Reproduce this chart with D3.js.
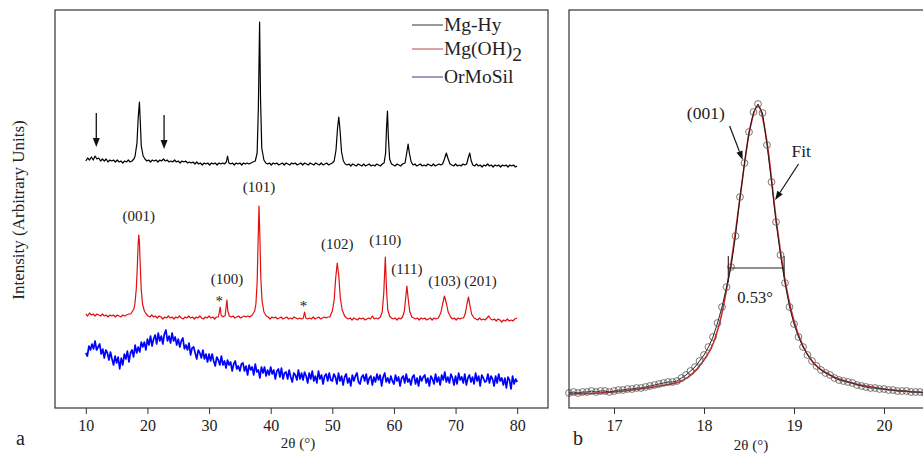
<!DOCTYPE html>
<html>
<head>
<meta charset="utf-8">
<script src="https://cdn.jsdelivr.net/npm/d3@7"></script>
<style>
  body { margin: 0; background: #fff; }
  svg { display: block; font-family: "Liberation Serif", "Times New Roman", serif; }
</style>
</head>
<body>
<div id="chart"></div>
<script>
// ---- data ----

// panel a: XRD patterns, [2theta, intensity] in arbitrary units
const mgHy = [
  [10, 17], [10.3, 20], [10.6, 18], [10.9, 21], [11.2, 18], [11.5, 22], [11.8, 19], [12.1, 20],
  [12.4, 17], [12.7, 19], [13, 17], [13.3, 19], [13.6, 16], [13.9, 18], [14.2, 17], [14.5, 18],
  [14.8, 16], [15.1, 18], [15.4, 16], [15.7, 17], [16, 15], [16.3, 17], [16.6, 16], [16.9, 18],
  [17.2, 16], [17.5, 17], [17.8, 19], [18, 22], [18.3, 35], [18.5, 60], [18.7, 76], [18.85, 55],
  [19, 32], [19.3, 22], [19.6, 19], [19.9, 17], [20.2, 18], [20.5, 16], [20.8, 18], [21.1, 17],
  [21.4, 18], [21.7, 16], [22, 18], [22.3, 17], [22.6, 19], [22.9, 17], [23.2, 18], [23.5, 16],
  [23.8, 17], [24.1, 16], [24.4, 18], [24.7, 16], [25, 17], [25.3, 15], [25.6, 17], [25.9, 16],
  [26.2, 17], [26.5, 15], [26.8, 16], [27.1, 15], [27.4, 16], [27.7, 14], [28, 16], [28.3, 14],
  [28.6, 15], [28.9, 13], [29.2, 15], [29.5, 14], [29.8, 15], [30.1, 13], [30.4, 15], [30.7, 14],
  [31, 15], [31.3, 13], [31.6, 15], [31.9, 14], [32.2, 15], [32.5, 14], [32.8, 16], [33, 22],
  [33.2, 15], [33.5, 14], [33.8, 15], [34.1, 13], [34.4, 15], [34.7, 14], [35, 15], [35.3, 13],
  [35.6, 15], [35.9, 14], [36.2, 15], [36.5, 14], [36.8, 15], [37.1, 16], [37.5, 17], [37.8, 25],
  [38, 70], [38.2, 156], [38.35, 80], [38.55, 30], [38.9, 18], [39.2, 15], [39.5, 14], [39.8, 15],
  [40.1, 13], [40.4, 15], [40.7, 14], [41, 15], [41.3, 13], [41.6, 14], [41.9, 15], [42.2, 13],
  [42.5, 15], [42.8, 14], [43.1, 13], [43.4, 15], [43.7, 14], [44, 15], [44.3, 13], [44.6, 14],
  [44.9, 15], [45.2, 13], [45.5, 15], [45.8, 14], [46.1, 13], [46.4, 15], [46.7, 14], [47, 13],
  [47.3, 15], [47.6, 14], [47.9, 13], [48.2, 15], [48.5, 13], [48.8, 14], [49.1, 15], [49.4, 13],
  [49.7, 14], [50, 15], [50.3, 17], [50.6, 28], [50.85, 50], [51.05, 61], [51.25, 48], [51.5, 26],
  [51.8, 17], [52.1, 14], [52.4, 13], [52.7, 14], [53, 12], [53.3, 14], [53.6, 13], [53.9, 12],
  [54.2, 14], [54.5, 13], [54.8, 12], [55.1, 14], [55.4, 12], [55.7, 13], [56, 14], [56.3, 12],
  [56.6, 13], [56.9, 12], [57.2, 14], [57.5, 13], [57.8, 12], [58.1, 14], [58.4, 15], [58.65, 25],
  [58.8, 50], [58.95, 67], [59.1, 40], [59.3, 19], [59.6, 14], [59.9, 13], [60.2, 12], [60.5, 14],
  [60.8, 13], [61.1, 12], [61.4, 14], [61.8, 15], [62.05, 24], [62.3, 34], [62.5, 25], [62.8, 16],
  [63.1, 13], [63.4, 14], [63.7, 12], [64, 13], [64.3, 14], [64.6, 12], [64.9, 13], [65.2, 12],
  [65.5, 14], [65.8, 13], [66.1, 12], [66.4, 14], [66.7, 12], [67, 13], [67.3, 14], [67.6, 13],
  [67.9, 14], [68.2, 19], [68.5, 25], [68.8, 19], [69.1, 14], [69.4, 13], [69.7, 12], [70, 14],
  [70.3, 12], [70.6, 13], [70.9, 12], [71.2, 14], [71.5, 13], [71.8, 14], [72.05, 20], [72.3, 25],
  [72.55, 17], [72.8, 13], [73.1, 12], [73.4, 14], [73.7, 12], [74, 13], [74.3, 11], [74.6, 13],
  [74.9, 12], [75.2, 14], [75.5, 12], [75.8, 13], [76.1, 11], [76.4, 13], [76.7, 12], [77, 13],
  [77.3, 11], [77.6, 13], [77.9, 12], [78.2, 13], [78.5, 11], [78.8, 13], [79.1, 12], [79.4, 13],
  [79.7, 11], [80, 12]
];

const mgOH2 = [
  [10, 14], [10.3, 12], [10.6, 15], [10.9, 13], [11.2, 14], [11.5, 12], [11.8, 14], [12.1, 13],
  [12.4, 12], [12.7, 14], [13, 12], [13.3, 13], [13.6, 11], [13.9, 13], [14.2, 12], [14.5, 13],
  [14.8, 11], [15.1, 13], [15.4, 12], [15.7, 11], [16, 13], [16.3, 12], [16.6, 13], [17, 14],
  [17.3, 14], [17.6, 17], [17.85, 20], [18, 26], [18.2, 40], [18.35, 60], [18.5, 85], [18.6, 93],
  [18.7, 86], [18.85, 60], [19, 38], [19.2, 24], [19.5, 17], [19.8, 14], [20.1, 12], [20.4, 11],
  [20.7, 13], [21, 11], [21.3, 12], [21.6, 10], [21.9, 12], [22.2, 11], [22.5, 9], [22.8, 11],
  [23.1, 10], [23.4, 12], [23.7, 10], [24, 11], [24.3, 9], [24.6, 11], [24.9, 10], [25.2, 12],
  [25.5, 10], [25.8, 9], [26.1, 11], [26.4, 10], [26.7, 12], [27, 10], [27.3, 11], [27.6, 9],
  [27.9, 11], [28.2, 10], [28.5, 12], [28.8, 10], [29.1, 9], [29.4, 11], [29.7, 10], [30, 12],
  [30.3, 10], [30.6, 11], [30.9, 9], [31.2, 11], [31.5, 11], [31.7, 17], [31.8, 21], [31.95, 13],
  [32.2, 11], [32.45, 12], [32.6, 12], [32.75, 20], [32.9, 28], [33.05, 17], [33.3, 12], [33.6, 11],
  [33.9, 12], [34.2, 10], [34.5, 11], [34.8, 12], [35.1, 10], [35.4, 11], [35.7, 12], [36, 11],
  [36.3, 12], [36.6, 11], [37, 13], [37.4, 17], [37.6, 24], [37.8, 45], [37.95, 85], [38.1, 122],
  [38.25, 90], [38.4, 50], [38.6, 27], [38.9, 16], [39.3, 12], [39.6, 11], [39.9, 9], [40.2, 11],
  [40.5, 10], [40.8, 11], [41.1, 9], [41.4, 10], [41.7, 11], [42, 9], [42.3, 10], [42.6, 11],
  [42.9, 9], [43.2, 10], [43.5, 9], [43.8, 11], [44.1, 10], [44.4, 9], [44.7, 10], [45, 9],
  [45.3, 10], [45.5, 16], [45.7, 10], [46, 9], [46.3, 10], [46.6, 9], [46.9, 11], [47.2, 9],
  [47.5, 10], [47.8, 11], [48.1, 9], [48.4, 10], [48.7, 11], [49, 10], [49.3, 11], [49.6, 11],
  [50, 17], [50.3, 28], [50.55, 50], [50.8, 65], [51.05, 52], [51.3, 30], [51.6, 18], [52, 12],
  [52.3, 10], [52.6, 9], [52.9, 10], [53.2, 8], [53.5, 10], [53.8, 9], [54.1, 8], [54.4, 10],
  [54.7, 9], [55, 10], [55.3, 8], [55.6, 9], [55.9, 10], [56.2, 9], [56.5, 12], [56.8, 9],
  [57.1, 10], [57.4, 9], [57.8, 11], [58.1, 16], [58.35, 35], [58.6, 71], [58.8, 38], [59, 18],
  [59.3, 12], [59.6, 10], [59.9, 9], [60.2, 10], [60.5, 8], [60.8, 10], [61.1, 9], [61.4, 11],
  [61.7, 17], [61.9, 30], [62.1, 42], [62.3, 30], [62.55, 17], [62.9, 11], [63.2, 10], [63.5, 9],
  [63.8, 10], [64.1, 8], [64.4, 10], [64.7, 9], [65, 10], [65.3, 8], [65.6, 9], [65.9, 10],
  [66.2, 8], [66.5, 10], [66.8, 9], [67.2, 10], [67.6, 15], [67.9, 24], [68.2, 32], [68.5, 25],
  [68.8, 16], [69.2, 11], [69.5, 9], [69.8, 10], [70.1, 8], [70.4, 10], [70.7, 9], [71, 10],
  [71.3, 10], [71.6, 15], [71.85, 24], [72.1, 31], [72.35, 22], [72.6, 14], [73, 10], [73.3, 9],
  [73.6, 8], [73.9, 10], [74.2, 8], [74.5, 9], [74.8, 8], [75.1, 10], [75.4, 12], [75.7, 9],
  [76, 8], [76.3, 9], [76.6, 7], [76.9, 9], [77.2, 8], [77.5, 6], [77.8, 8], [78.1, 7],
  [78.4, 9], [78.7, 7], [79, 8], [79.3, 7], [79.6, 9], [80, 10]
];

// OrMoSil is recorded on a 0.25 deg grid starting at 10 deg
const ormosilStart = 10;
const ormosilStep = 0.25;
const ormosil = [
  55, 52, 62, 58, 64, 59, 67, 58, 61, 64, 54, 59, 50, 58, 55, 48, 56, 49, 43, 52,
  45, 51, 39, 50, 43, 54, 49, 57, 46, 55, 58, 51, 63, 55, 61, 56, 66, 61, 66, 58,
  69, 63, 72, 62, 69, 73, 64, 75, 67, 72, 64, 74, 78, 67, 72, 65, 75, 67, 71, 63,
  69, 61, 67, 70, 59, 63, 58, 65, 53, 60, 61, 55, 49, 58, 55, 50, 58, 49, 54, 46,
  54, 47, 54, 47, 42, 51, 48, 43, 52, 43, 47, 40, 48, 43, 46, 37, 44, 47, 39, 42,
  37, 44, 45, 37, 42, 33, 43, 38, 41, 33, 44, 36, 38, 30, 41, 35, 41, 32, 38, 33,
  41, 34, 38, 29, 37, 39, 31, 40, 29, 35, 36, 29, 38, 31, 26, 35, 33, 28, 38, 29,
  35, 28, 36, 32, 25, 35, 29, 37, 27, 32, 25, 37, 29, 33, 24, 32, 34, 27, 35, 28,
  27, 34, 31, 24, 35, 27, 32, 23, 31, 34, 25, 30, 22, 33, 27, 32, 35, 26, 24, 31,
  33, 27, 34, 24, 30, 32, 23, 31, 26, 34, 28, 33, 22, 31, 35, 26, 30, 25, 32, 27,
  24, 33, 27, 31, 22, 30, 32, 25, 34, 26, 29, 23, 31, 33, 24, 30, 22, 32, 27, 31,
  33, 25, 30, 22, 32, 29, 24, 34, 26, 31, 23, 33, 28, 36, 26, 31, 25, 34, 30, 23,
  32, 24, 35, 28, 31, 25, 34, 23, 30, 33, 26, 31, 24, 35, 27, 32, 22, 33, 30, 26,
  27, 34, 25, 32, 29, 22, 32, 25, 34, 27, 30, 23, 30, 20, 31, 28, 19, 32, 24, 29,
  26
];

const seriesNames = ["Mg-Hy", "Mg(OH)2", "OrMoSil"];
const xTicksA = [10, 20, 30, 40, 50, 60, 70, 80];

// Mg(OH)2 reflections: [2theta, label]
const reflections = [
  [18.6, "(001)"], [32.9, "(100)"], [38.1, "(101)"], [50.8, "(102)"],
  [58.6, "(110)"], [62.1, "(111)"], [68.2, "(103)"], [72.1, "(201)"]
];
const impurityPeaks = [31.8, 45.5];   // marked with *
const unknownPeaks = [11.7, 22.7];    // arrows on Mg-Hy

// panel b: (001) reflection, measured points and fit
const peakMeasured = [
  [16.5, 15], [16.55, 16], [16.6, 15], [16.65, 16], [16.7, 16], [16.75, 17], [16.8, 16], [16.85, 17],
  [16.9, 17], [16.95, 16], [17, 17], [17.05, 18], [17.1, 18], [17.15, 19], [17.2, 19], [17.25, 20],
  [17.3, 20], [17.35, 21], [17.4, 22], [17.45, 23], [17.5, 24], [17.55, 25], [17.6, 26], [17.65, 26],
  [17.7, 27], [17.75, 30], [17.8, 33], [17.85, 37], [17.9, 41], [17.95, 47], [18, 53], [18.05, 61],
  [18.1, 71], [18.15, 85], [18.2, 101], [18.25, 121], [18.3, 141], [18.35, 172], [18.4, 211], [18.45, 245],
  [18.5, 276], [18.55, 296], [18.6, 304], [18.65, 295], [18.7, 263], [18.75, 226], [18.8, 186], [18.85, 153],
  [18.9, 125], [18.95, 101], [19, 84], [19.05, 71], [19.1, 61], [19.15, 53], [19.2, 47], [19.25, 42],
  [19.3, 38], [19.35, 35], [19.4, 33], [19.45, 30], [19.5, 28], [19.55, 27], [19.6, 26], [19.65, 25],
  [19.7, 23], [19.75, 22], [19.8, 21], [19.85, 20], [19.9, 20], [19.95, 19], [20, 19], [20.05, 18],
  [20.1, 18], [20.15, 17], [20.2, 17], [20.25, 17], [20.3, 16], [20.35, 16], [20.4, 16], [20.45, 15],
  [20.5, 15]
];
const peakFit = [
  [16.5, 14], [17, 16], [17.5, 22], [17.75, 27], [18, 48], [18.1, 64], [18.2, 95], [18.3, 145],
  [18.4, 210], [18.5, 274], [18.6, 302], [18.7, 266], [18.8, 190], [18.9, 128], [19, 87], [19.1, 62],
  [19.2, 47], [19.4, 33], [19.6, 26], [19.8, 22], [20, 19], [20.5, 15]
];
const fwhm = [18.27, 18.89];   // measured width, labelled 0.53°
const xTicksB = [17, 18, 19, 20];

// ---- layout ----
const W = 923, H = 453;
const plotTop = 10, plotBottom = 408;
const panelA = { left: 55, right: 548 };
const panelB = { left: 569, right: 929 };
const dark = "#222";

const svg = d3.select("#chart").append("svg")
  .attr("width", W).attr("height", H);

const y = d3.scaleLinear().domain([0, plotBottom - plotTop]).range([plotBottom, plotTop]);

// ================= panel a =================
const xA = d3.scaleLinear().domain([5, 85]).range([panelA.left, panelA.right]);

// vertical stacking of the patterns
const offsets = { "Mg-Hy": 230, "Mg(OH)2": 80, "OrMoSil": 0 };
const colors = { "Mg-Hy": "#000", "Mg(OH)2": "#e01010", "OrMoSil": "#0000ff" };
const legendColors = { "Mg-Hy": "#333", "Mg(OH)2": "#b84848", "OrMoSil": "#383888" };

const ormosilPts = ormosil.map((v, i) => [ormosilStart + i * ormosilStep, v]);
const seriesData = { "Mg-Hy": mgHy, "Mg(OH)2": mgOH2, "OrMoSil": ormosilPts };

const gA = svg.append("g");

seriesNames.forEach((name) => {
  const off = offsets[name];
  const line = d3.line()
    .x((d) => xA(d[0]))
    .y((d) => y(d[1] + off));
  gA.append("path")
    .datum(seriesData[name])
    .attr("fill", "none")
    .attr("stroke", colors[name])
    .attr("stroke-width", name === "OrMoSil" ? 1.7 : 1.2)
    .attr("stroke-linejoin", "round")
    .attr("d", line);
});

// frame
gA.append("rect")
  .attr("x", panelA.left).attr("y", plotTop)
  .attr("width", panelA.right - panelA.left).attr("height", plotBottom - plotTop)
  .attr("fill", "none").attr("stroke", "#333").attr("stroke-width", 1.2);

// bottom axis
gA.append("g")
  .attr("transform", `translate(0,${plotBottom})`)
  .call(d3.axisBottom(xA).tickValues(xTicksA).tickSize(6).tickPadding(6))
  .call((g) => g.select(".domain").remove())
  .call((g) => g.selectAll(".tick line").attr("stroke", "#333"))
  .call((g) => g.selectAll(".tick text")
    .attr("fill", dark).style("font-size", "16px")
    .style("font-family", "Liberation Serif"));

gA.append("text")
  .attr("x", 298).attr("y", 448)
  .attr("text-anchor", "middle").attr("fill", dark)
  .style("font-size", "15px")
  .text("2θ (°)");

gA.append("text")
  .attr("transform", "translate(24,210) rotate(-90)")
  .attr("text-anchor", "middle").attr("fill", dark)
  .style("font-size", "17px")
  .text("Intensity (Arbitrary Units)");

gA.append("text")
  .attr("x", 16).attr("y", 445)
  .attr("fill", dark).style("font-size", "20px")
  .text("a");

// legend
const legendY = { "Mg-Hy": 25, "Mg(OH)2": 49, "OrMoSil": 77 };
seriesNames.forEach((name) => {
  const ly = legendY[name];
  gA.append("line")
    .attr("x1", 412).attr("x2", 443)
    .attr("y1", ly).attr("y2", ly)
    .attr("stroke", legendColors[name]).attr("stroke-width", 1);
  const t = gA.append("text")
    .attr("x", 444).attr("y", ly + 6)
    .attr("fill", dark).style("font-size", "19.5px");
  if (name === "Mg(OH)2") {
    t.append("tspan").text("Mg(OH)");
    t.append("tspan").attr("dy", 6).text("2");
  } else {
    t.text(name);
  }
});

// reflection labels above the Mg(OH)2 peaks
const redOff = offsets["Mg(OH)2"];
const peakTop = (deg) => {
  // highest Mg(OH)2 point near this angle
  const near = mgOH2.filter((d) => Math.abs(d[0] - deg) < 0.3);
  return d3.max(near, (d) => d[1]) + redOff;
};
const labelShift = { "(001)": [0, 14], "(100)": [0, 16], "(101)": [0, 14], "(102)": [0, 14],
  "(110)": [0, 12], "(111)": [0, 12], "(103)": [0, 10], "(201)": [12, 11] };
reflections.forEach(([deg, lab]) => {
  const s = labelShift[lab];
  gA.append("text")
    .attr("x", xA(deg) + s[0])
    .attr("y", y(peakTop(deg)) - s[1])
    .attr("text-anchor", "middle").attr("fill", dark)
    .style("font-size", "15px")
    .text(lab);
});

impurityPeaks.forEach((deg) => {
  gA.append("text")
    .attr("x", xA(deg) - 1)
    .attr("y", y(peakTop(deg)) - 1)
    .attr("text-anchor", "middle").attr("fill", dark)
    .style("font-size", "15px")
    .text("*");
});

// arrows on Mg-Hy
const hyOff = offsets["Mg-Hy"];
unknownPeaks.forEach((deg, i) => {
  const x = xA(deg);
  const tip = y(hyOff + 31 - i * 2);
  const tail = tip - 34;
  gA.append("line")
    .attr("x1", x).attr("x2", x)
    .attr("y1", tail).attr("y2", tip - 6)
    .attr("stroke", "#111").attr("stroke-width", 1.3);
  gA.append("path")
    .attr("d", `M${x - 3.5},${tip - 9}L${x + 3.5},${tip - 9}L${x},${tip}Z`)
    .attr("fill", "#111");
});

// ================= panel b =================
const xB = d3.scaleLinear().domain([16.5, 20.5]).range([panelB.left, panelB.right]);
const gB = svg.append("g");

gB.append("path")
  .datum(peakFit)
  .attr("fill", "none").attr("stroke", "#d02828").attr("stroke-width", 1.5)
  .attr("d", d3.line().curve(d3.curveMonotoneX).x((d) => xB(d[0])).y((d) => y(d[1])));

gB.append("path")
  .datum(peakMeasured)
  .attr("fill", "none").attr("stroke", "#111").attr("stroke-width", 0.9)
  .attr("d", d3.line().x((d) => xB(d[0])).y((d) => y(d[1])));

gB.selectAll("circle.pt")
  .data(peakMeasured)
  .join("circle")
  .attr("class", "pt")
  .attr("cx", (d) => xB(d[0])).attr("cy", (d) => y(d[1]))
  .attr("r", 3.4)
  .attr("fill", "none").attr("stroke", "#555").attr("stroke-width", 0.8);

gB.append("rect")
  .attr("x", panelB.left).attr("y", plotTop)
  .attr("width", panelB.right - panelB.left).attr("height", plotBottom - plotTop)
  .attr("fill", "none").attr("stroke", "#333").attr("stroke-width", 1.2);

gB.append("g")
  .attr("transform", `translate(0,${plotBottom})`)
  .call(d3.axisBottom(xB).tickValues(xTicksB).tickFormat(d3.format("d")).tickSize(6).tickPadding(6))
  .call((g) => g.select(".domain").remove())
  .call((g) => g.selectAll(".tick line").attr("stroke", "#333"))
  .call((g) => g.selectAll(".tick text")
    .attr("fill", dark).style("font-size", "16px")
    .style("font-family", "Liberation Serif"));

gB.append("text")
  .attr("x", 751).attr("y", 450)
  .attr("text-anchor", "middle").attr("fill", dark)
  .style("font-size", "15px")
  .text("2θ (°)");

gB.append("text")
  .attr("x", 573).attr("y", 445)
  .attr("fill", dark).style("font-size", "20px")
  .text("b");

// FWHM bar
const barY = y(140);
gB.append("line")
  .attr("x1", xB(fwhm[0])).attr("x2", xB(fwhm[1]))
  .attr("y1", barY).attr("y2", barY)
  .attr("stroke", "#222").attr("stroke-width", 1.1);
gB.append("line")
  .attr("x1", xB(fwhm[0])).attr("x2", xB(fwhm[0]))
  .attr("y1", barY - 12).attr("y2", barY + 14)
  .attr("stroke", "#222").attr("stroke-width", 1.1);
gB.append("line")
  .attr("x1", xB(fwhm[1])).attr("x2", xB(fwhm[1]))
  .attr("y1", barY - 12).attr("y2", barY + 8)
  .attr("stroke", "#222").attr("stroke-width", 1.1);
gB.append("text")
  .attr("x", xB(18.6) - 3).attr("y", barY + 35)
  .attr("text-anchor", "middle").attr("fill", dark)
  .style("font-size", "16.5px")
  .text("0.53°");

// callouts
function arrow(g, x1, y1, x2, y2) {
  const a = Math.atan2(y2 - y1, x2 - x1);
  const len = 9, w = 3.2;
  const bx = x2 - len * Math.cos(a), by = y2 - len * Math.sin(a);
  g.append("line")
    .attr("x1", x1).attr("y1", y1).attr("x2", bx).attr("y2", by)
    .attr("stroke", "#111").attr("stroke-width", 1.2);
  g.append("path")
    .attr("d", `M${x2},${y2}L${bx + w * Math.sin(a)},${by - w * Math.cos(a)}L${bx - w * Math.sin(a)},${by + w * Math.cos(a)}Z`)
    .attr("fill", "#111");
}

gB.append("text")
  .attr("x", xB(18.02)).attr("y", y(289))
  .attr("text-anchor", "middle").attr("fill", dark)
  .style("font-size", "17.5px")
  .text("(001)");
arrow(gB, xB(18.285), y(282), xB(18.43), y(248));

gB.append("text")
  .attr("x", xB(19.08)).attr("y", y(251))
  .attr("text-anchor", "middle").attr("fill", dark)
  .style("font-size", "17.5px")
  .text("Fit");
arrow(gB, xB(19.05), y(244), xB(18.79), y(208));
</script>
</body>
</html>
